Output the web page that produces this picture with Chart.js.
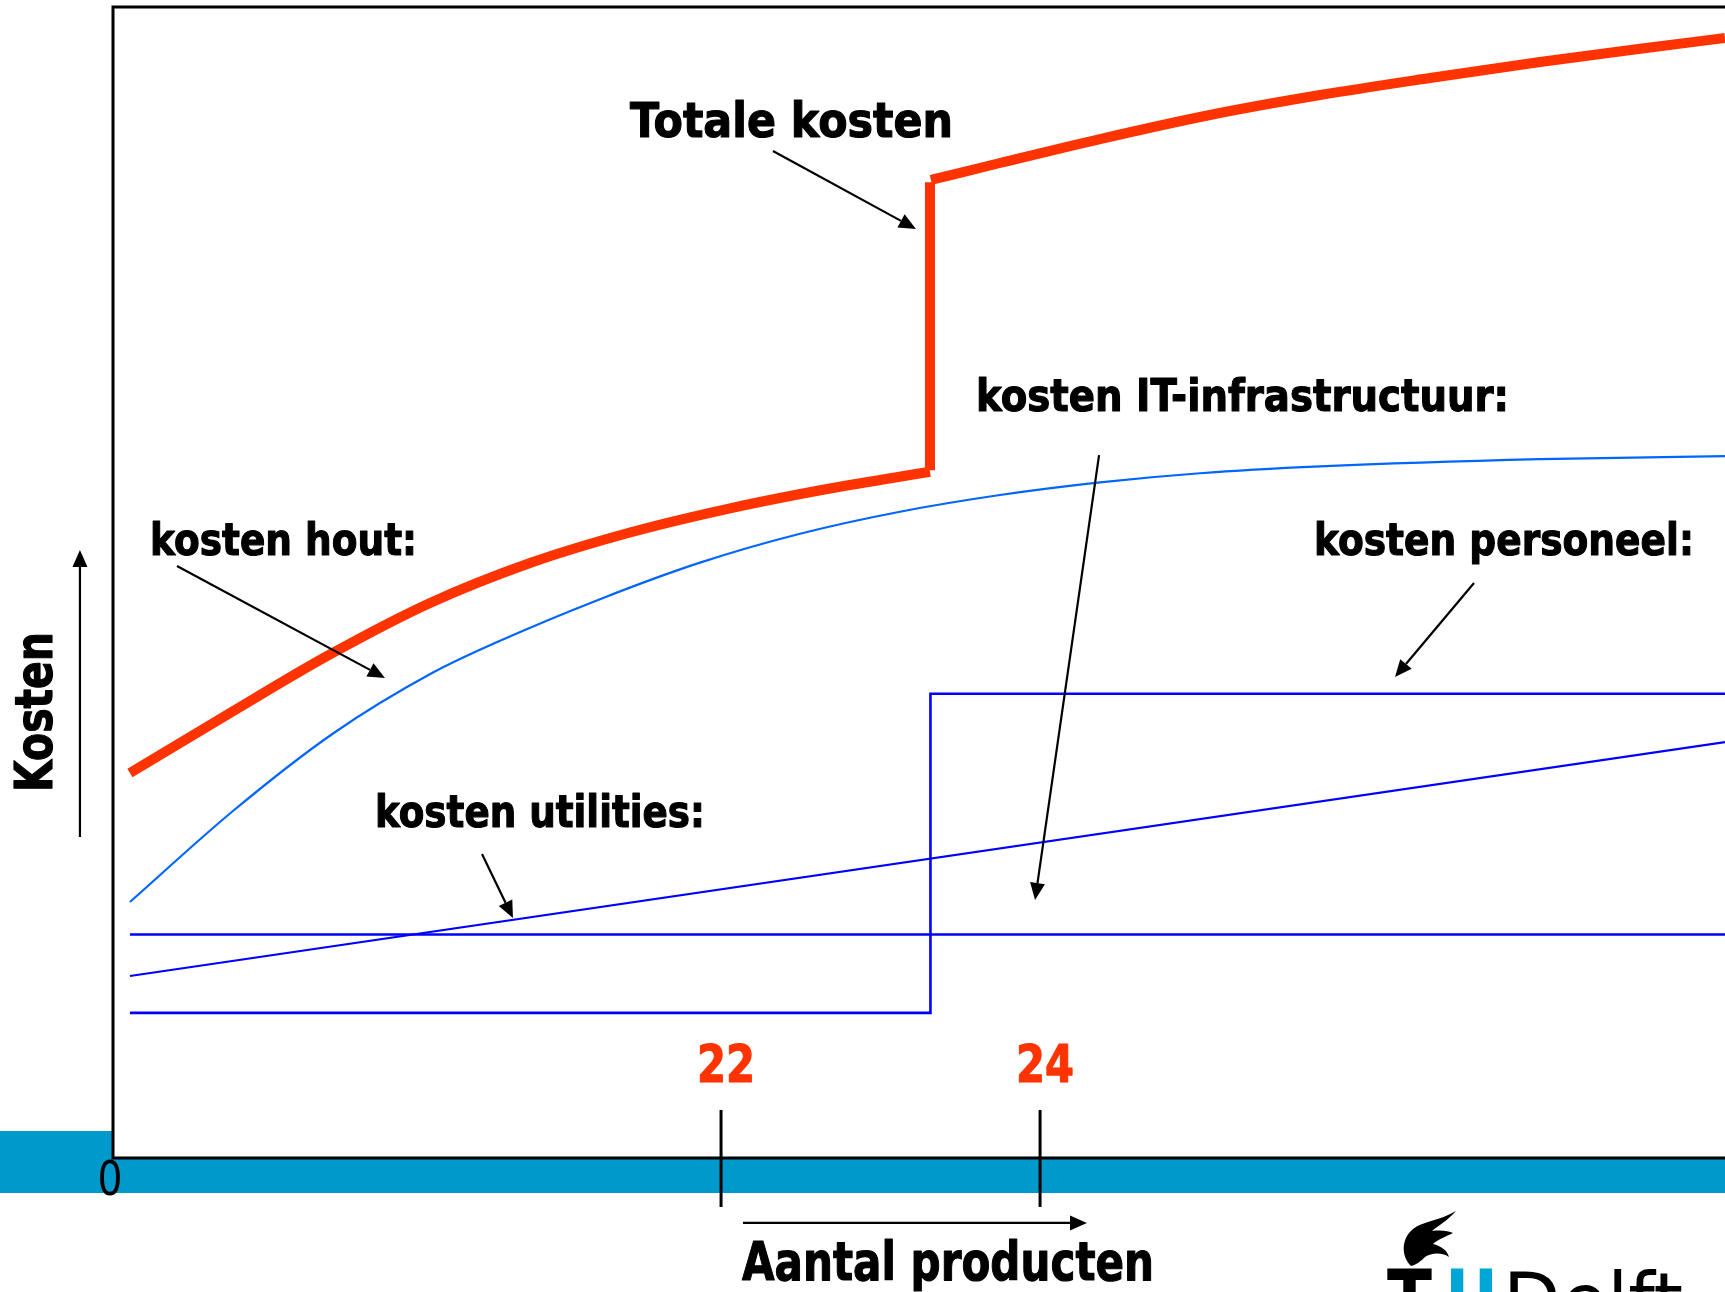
<!DOCTYPE html>
<html>
<head>
<meta charset="utf-8">
<script src="https://cdn.jsdelivr.net/npm/chart.js@4/dist/chart.umd.min.js"></script>
<style>
  html, body { margin: 0; padding: 0; background: #fff; overflow: hidden; }
  canvas { display: block; }
</style>
</head>
<body>
<canvas id="kosten" width="1725" height="1292"></canvas>
<script>
/**
 * Kostenopbouw: totale kosten springen bij het aantal producten waar personeel bijkomt.
 * Assen zijn niet op schaal, x en y lopen van 0 tot 100 (fractie van het plotvlak).
 */

// Totale kosten, deel voor de sprong
const totaalVoorX = [1.05, 7.26, 13.46, 19.67, 25.87, 32.07, 38.28, 44.48, 50.68];
const totaalVoor = [33.42, 38.63, 43.71, 48.18, 51.65, 54.30, 56.40, 58.12, 59.57];
// de sprong zelf
const sprongX = [50.68, 50.68];
const sprong = [59.7, 84.7];
// Totale kosten, deel na de sprong
const totaalNaX = [50.74, 55.02, 61.23, 68.05, 74.88, 81.70, 88.52, 95.35, 100];
const totaalNa = [84.90, 86.37, 88.45, 90.54, 92.27, 93.75, 95.14, 96.40, 97.22];

// kosten hout
const houtX = [1.05, 7.44, 13.65, 19.85, 24.01, 30.21, 36.41, 42.62, 48.82, 55.02, 61.23, 67.43, 74.88, 88.52, 100];
const hout = [22.22, 30.12, 36.85, 42.14, 44.90, 48.51, 51.68, 54.19, 56.10, 57.55, 58.65, 59.44, 60.03, 60.66, 60.92];

// kosten personeel (stapfunctie)
const personeelX = [1.05, 50.71, 50.71, 100];
const personeel = [12.6, 12.6, 40.3, 40.3];

// kosten utilities
const utilitiesX = [1.05, 100];
const utilities = [15.8, 36.1];

// kosten IT-infrastructuur
const itX = [1.05, 100];
const it = [19.4, 19.4];

// gemarkeerde aantallen op de x-as
const tickPosities = [37.72, 57.51];
const tickLabels = ['22', '24'];

const red = '#ff3300';
const blue = '#0000ff';
const lightBlue = '#0066ff';
const band = '#0099cc';
const tuCyan = '#00a6d6';

const points = (xs, ys) => xs.map((x, i) => ({x: x, y: ys[i]}));

// tekstlabels in as-eenheden (x = links, y = basislijn)
const labels = [
    {text: 'Totale kosten', x: 32.07, y: 88.63, width: 323, size: 48},
    {text: 'kosten IT-infrastructuur:', x: 53.54, y: 64.84, width: 533, size: 44},
    {text: 'kosten hout:', x: 2.30, y: 52.34, width: 267, size: 44},
    {text: 'kosten personeel:', x: 74.50, y: 52.34, width: 380, size: 44},
    {text: 'kosten utilities:', x: 16.25, y: 28.73, width: 330, size: 44},
    {text: 'Aantal producten', x: 39.02, y: -10.55, width: 412, size: 54}
];

// pijlen [x1, y1, x2, y2], punt bij (x2, y2)
const arrows = [
    [40.94, 87.41, 49.81, 80.64],
    [61.17, 61.02, 57.20, 22.40],
    [3.97, 51.39, 16.87, 41.67],
    [84.43, 49.91, 79.53, 41.75],
    [22.89, 26.39, 24.81, 20.83],
    [-2.05, 27.86, -2.05, 52.78],
    [39.08, -5.64, 60.42, -5.64]
];

// tekst op vaste breedte, met een dunne rand voor een zwaardere letter
const fitText = function(ctx, text, x, y, font, width, align, heavy) {
    ctx.font = font;
    ctx.textAlign = align || 'left';
    ctx.textBaseline = 'alphabetic';
    ctx.fillText(text, x, y, width);
    if (heavy) {
        ctx.save();
        ctx.strokeStyle = ctx.fillStyle;
        ctx.lineWidth = heavy;
        ctx.lineJoin = 'round';
        ctx.strokeText(text, x, y, width);
        ctx.restore();
    }
};

const arrow = function(ctx, x1, y1, x2, y2) {
    const len = 17, half = 7.5;
    const ang = Math.atan2(y2 - y1, x2 - x1);
    const bx = x2 - len * Math.cos(ang), by = y2 - len * Math.sin(ang);
    ctx.beginPath();
    ctx.moveTo(x1, y1);
    ctx.lineTo(bx, by);
    ctx.stroke();
    ctx.beginPath();
    ctx.moveTo(x2, y2);
    ctx.lineTo(bx + half * Math.sin(ang), by - half * Math.cos(ang));
    ctx.lineTo(bx - half * Math.sin(ang), by + half * Math.cos(ang));
    ctx.closePath();
    ctx.fill();
};

const flame = function(ctx, ox, oy) {
    ctx.beginPath();
    ctx.moveTo(ox + 10, oy + 55);
    ctx.bezierCurveTo(ox + 0, oy + 45, ox + 0, oy + 28, ox + 12, oy + 18);
    ctx.bezierCurveTo(ox + 22, oy + 10, ox + 38, oy + 10, ox + 55, oy + 0);
    ctx.bezierCurveTo(ox + 46, oy + 10, ox + 38, oy + 14, ox + 31, oy + 20);
    ctx.bezierCurveTo(ox + 40, oy + 19, ox + 48, oy + 20, ox + 52, oy + 22);
    ctx.bezierCurveTo(ox + 44, oy + 26, ox + 36, oy + 29, ox + 32, oy + 33);
    ctx.bezierCurveTo(ox + 40, oy + 35, ox + 46, oy + 39, ox + 48, oy + 46);
    ctx.bezierCurveTo(ox + 40, oy + 41, ox + 30, oy + 42, ox + 24, oy + 46);
    ctx.bezierCurveTo(ox + 20, oy + 50, ox + 15, oy + 54, ox + 10, oy + 55);
    ctx.closePath();
    ctx.fill();
};

const slideDecor = {
    id: 'slideDecor',
    beforeDraw(chart) {
        const {ctx, chartArea: a, width, height} = chart;
        ctx.save();
        ctx.fillStyle = '#fff';
        ctx.fillRect(0, 0, width, height);
        ctx.fillStyle = band;
        ctx.fillRect(0, a.bottom - 27, width, 62);
        ctx.fillStyle = '#fff';
        ctx.fillRect(a.left, 0, width - a.left, a.bottom);
        ctx.restore();
    },
    afterDatasetsDraw(chart) {
        const {ctx, chartArea: a, width} = chart;
        const sx = chart.scales.x, sy = chart.scales.y;
        const px = v => sx.getPixelForValue(v);
        const py = v => sy.getPixelForValue(v);
        ctx.save();

        // kader
        ctx.strokeStyle = '#000';
        ctx.lineWidth = 3;
        ctx.beginPath();
        ctx.moveTo(width, a.top + 1);
        ctx.lineTo(a.left, a.top + 1);
        ctx.lineTo(a.left, a.bottom);
        ctx.lineTo(width, a.bottom);
        ctx.stroke();

        // nul bij de oorsprong
        ctx.fillStyle = '#000';
        fitText(ctx, '0', px(0) - 3, py(-3.21), '48px "DejaVu Sans"', 25, 'center');

        // gemarkeerde aantallen
        tickPosities.forEach((t, i) => {
            ctx.lineWidth = 3;
            ctx.beginPath();
            ctx.moveTo(px(t), py(4.17));
            ctx.lineTo(px(t), py(-4.25));
            ctx.stroke();
            ctx.fillStyle = red;
            fitText(ctx, tickLabels[i], px(t) + 5, py(6.6), 'bold 51px "DejaVu Sans"', 58, 'center', 1.2);
            ctx.fillStyle = '#000';
        });

        // labels
        ctx.fillStyle = '#000';
        labels.forEach(l => {
            fitText(ctx, l.text, px(l.x), py(l.y), 'bold ' + l.size + 'px "DejaVu Sans"', l.width, 'left', 1.2);
        });

        // verticale astitel
        ctx.save();
        ctx.translate(px(-3.78), py(31.77));
        ctx.rotate(-Math.PI / 2);
        fitText(ctx, 'Kosten', 0, 0, 'bold 51px "DejaVu Sans"', 160, 'left', 1.2);
        ctx.restore();

        // pijlen
        ctx.lineWidth = 2.2;
        arrows.forEach(p => arrow(ctx, px(p[0]), py(p[1]), px(p[2]), py(p[3])));

        // TU Delft logo
        ctx.fillStyle = '#000';
        flame(ctx, 1401, 1211);
        fitText(ctx, 'T', 1387, 1327, 'bold 80px "DejaVu Sans"', 45);
        ctx.fillStyle = tuCyan;
        fitText(ctx, 'U', 1445, 1327, 'bold 80px "DejaVu Sans"', 53);
        ctx.fillStyle = '#000';
        fitText(ctx, 'Delft', 1503, 1330, '80px "DejaVu Sans"', 180);

        ctx.restore();
    }
};

const lineSet = function(data, color, width, smooth) {
    return {
        data: data,
        borderColor: color,
        borderWidth: width,
        pointRadius: 0,
        fill: false,
        tension: 0,
        cubicInterpolationMode: smooth ? 'monotone' : 'default'
    };
};

new Chart(document.getElementById('kosten'), {
    type: 'line',
    data: {
        datasets: [
            lineSet(points(houtX, hout), lightBlue, 2.2, true),
            lineSet(points(personeelX, personeel), blue, 2.6, false),
            lineSet(points(utilitiesX, utilities), blue, 2.2, false),
            lineSet(points(itX, it), blue, 2.6, false),
            lineSet(points(totaalVoorX, totaalVoor), red, 10, true),
            lineSet(points(sprongX, sprong), red, 10, false),
            lineSet(points(totaalNaX, totaalNa), red, 10, true)
        ]
    },
    options: {
        responsive: false,
        animation: false,
        layout: {padding: {left: 113, top: 6, right: 0, bottom: 134}},
        scales: {
            x: {type: 'linear', min: 0, max: 100, display: false},
            y: {type: 'linear', min: 0, max: 100, display: false}
        },
        plugins: {
            legend: {display: false},
            tooltip: {enabled: false}
        }
    },
    plugins: [slideDecor]
});
</script>
</body>
</html>
